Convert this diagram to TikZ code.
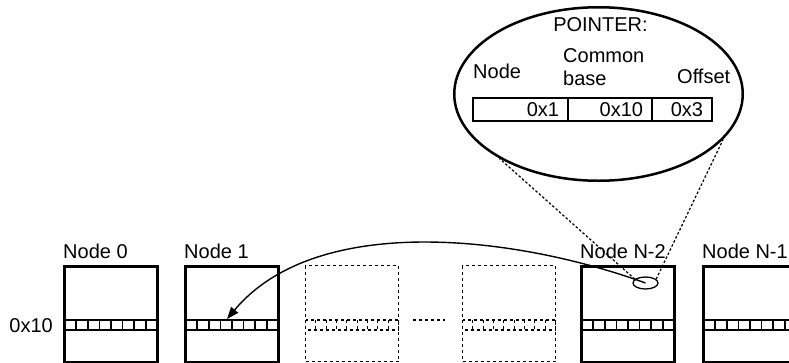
\documentclass[tikz,border=0pt]{standalone}
\usepackage{fontspec}
\setmainfont{Liberation Sans}
\usetikzlibrary{positioning,shapes.geometric,arrows.meta}

\tikzset{
  membox/.style={draw, line width=3pt, minimum width=93pt, minimum height=96pt, inner sep=0pt},
  ghostbox/.style={draw, dashed, line width=1.2pt, minimum width=93pt, minimum height=96pt, inner sep=0pt},
  lbl/.style={inner sep=0pt, font=\fontsize{20}{23}\selectfont},
  field/.style={draw, line width=2pt, outer sep=0pt, minimum height=23pt, inner ysep=0pt,
    inner xsep=9pt, align=right, font=\fontsize{20}{23}\selectfont},
  zoomline/.style={line width=1.2pt, dash pattern=on 2.5pt off 2pt},
  ptrarrow/.style={line width=1.4pt, -{Triangle[length=12pt,width=9pt]}},
}

\begin{document}
\begin{tikzpicture}[x=1pt,y=-1pt]

   \useasboundingbox (0,0) rectangle (789,362);
   \clip (0,0) rectangle (789,362);

   \foreach \n/\x/\t in {n0/111/Node 0, n1/232/Node 1, n2/628/Node N-2, n3/750/Node N-1} {
      \node[membox] (\n) at (\x,314.5) {};
      \node[lbl, anchor=base west] at ([yshift=7pt]\n.north west) {\t};
      \draw[line width=1.7pt] (\x-46.5,320) rectangle (\x+46.5,330);
      \foreach \k in {1,...,7}
         \draw[line width=1.7pt] (\x-46.5+\k*11.625,320) -- (\x-46.5+\k*11.625,330);
   }

   \foreach \n/\x in {d1/352, d2/509} {
      \node[ghostbox] (\n) at (\x,313.5) {};
      \draw[dashed, line width=1.2pt] (\x-46.5,320) rectangle (\x+46.5,330);
      \foreach \k in {1,...,8}
         \draw[dashed, line width=1.2pt] (\x-46.5+\k*10.33,320) -- (\x-46.5+\k*10.33,330);
   }
   \draw[dashed, line width=1.2pt] (413,320) -- (445,320);

   \node[lbl, anchor=base east] (addr) at ([xshift=-10pt,yshift=-17.5pt]n0.west) {0x10};

   \node[ellipse, draw, line width=2.5pt, minimum width=288.5pt, minimum height=173.5pt,
      inner sep=0pt] (ptr) at (598.5,94) {};
   \node[ellipse, draw, line width=1.3pt, minimum width=25pt, minimum height=12pt,
      inner sep=0pt] (zoom) at (645.5,283) {};

   \node[field, text width=77pt, anchor=west] (fnode) at (473,109.5) {0x1};
   \node[field, text width=66pt, right=0pt of fnode] (fbase) {0x10};
   \node[field, text width=42pt, right=0pt of fbase] (foffset) {0x3};

   \node[lbl, anchor=base] at ([xshift=2pt,yshift=-25pt]ptr.north) {POINTER:};
   \node[lbl, anchor=base west] at ([yshift=20pt]fnode.north west) {Node};
   \node[lbl, anchor=north west, align=left] at ([xshift=-5pt,yshift=49.6pt]fbase.north west) {Common\\base};
   \node[lbl, anchor=base west] at ([xshift=25pt,yshift=15pt]foffset.north west) {Offset};

   \draw[zoomline] (zoom.160) -- (ptr.213.8);
   \draw[zoomline] (zoom.20) -- (ptr.340);

   \coordinate (slot) at (227,319);
   \draw[ptrarrow] (zoom.center) to[out=160, in=50, looseness=0.85] (slot);

\end{tikzpicture}
\end{document}
